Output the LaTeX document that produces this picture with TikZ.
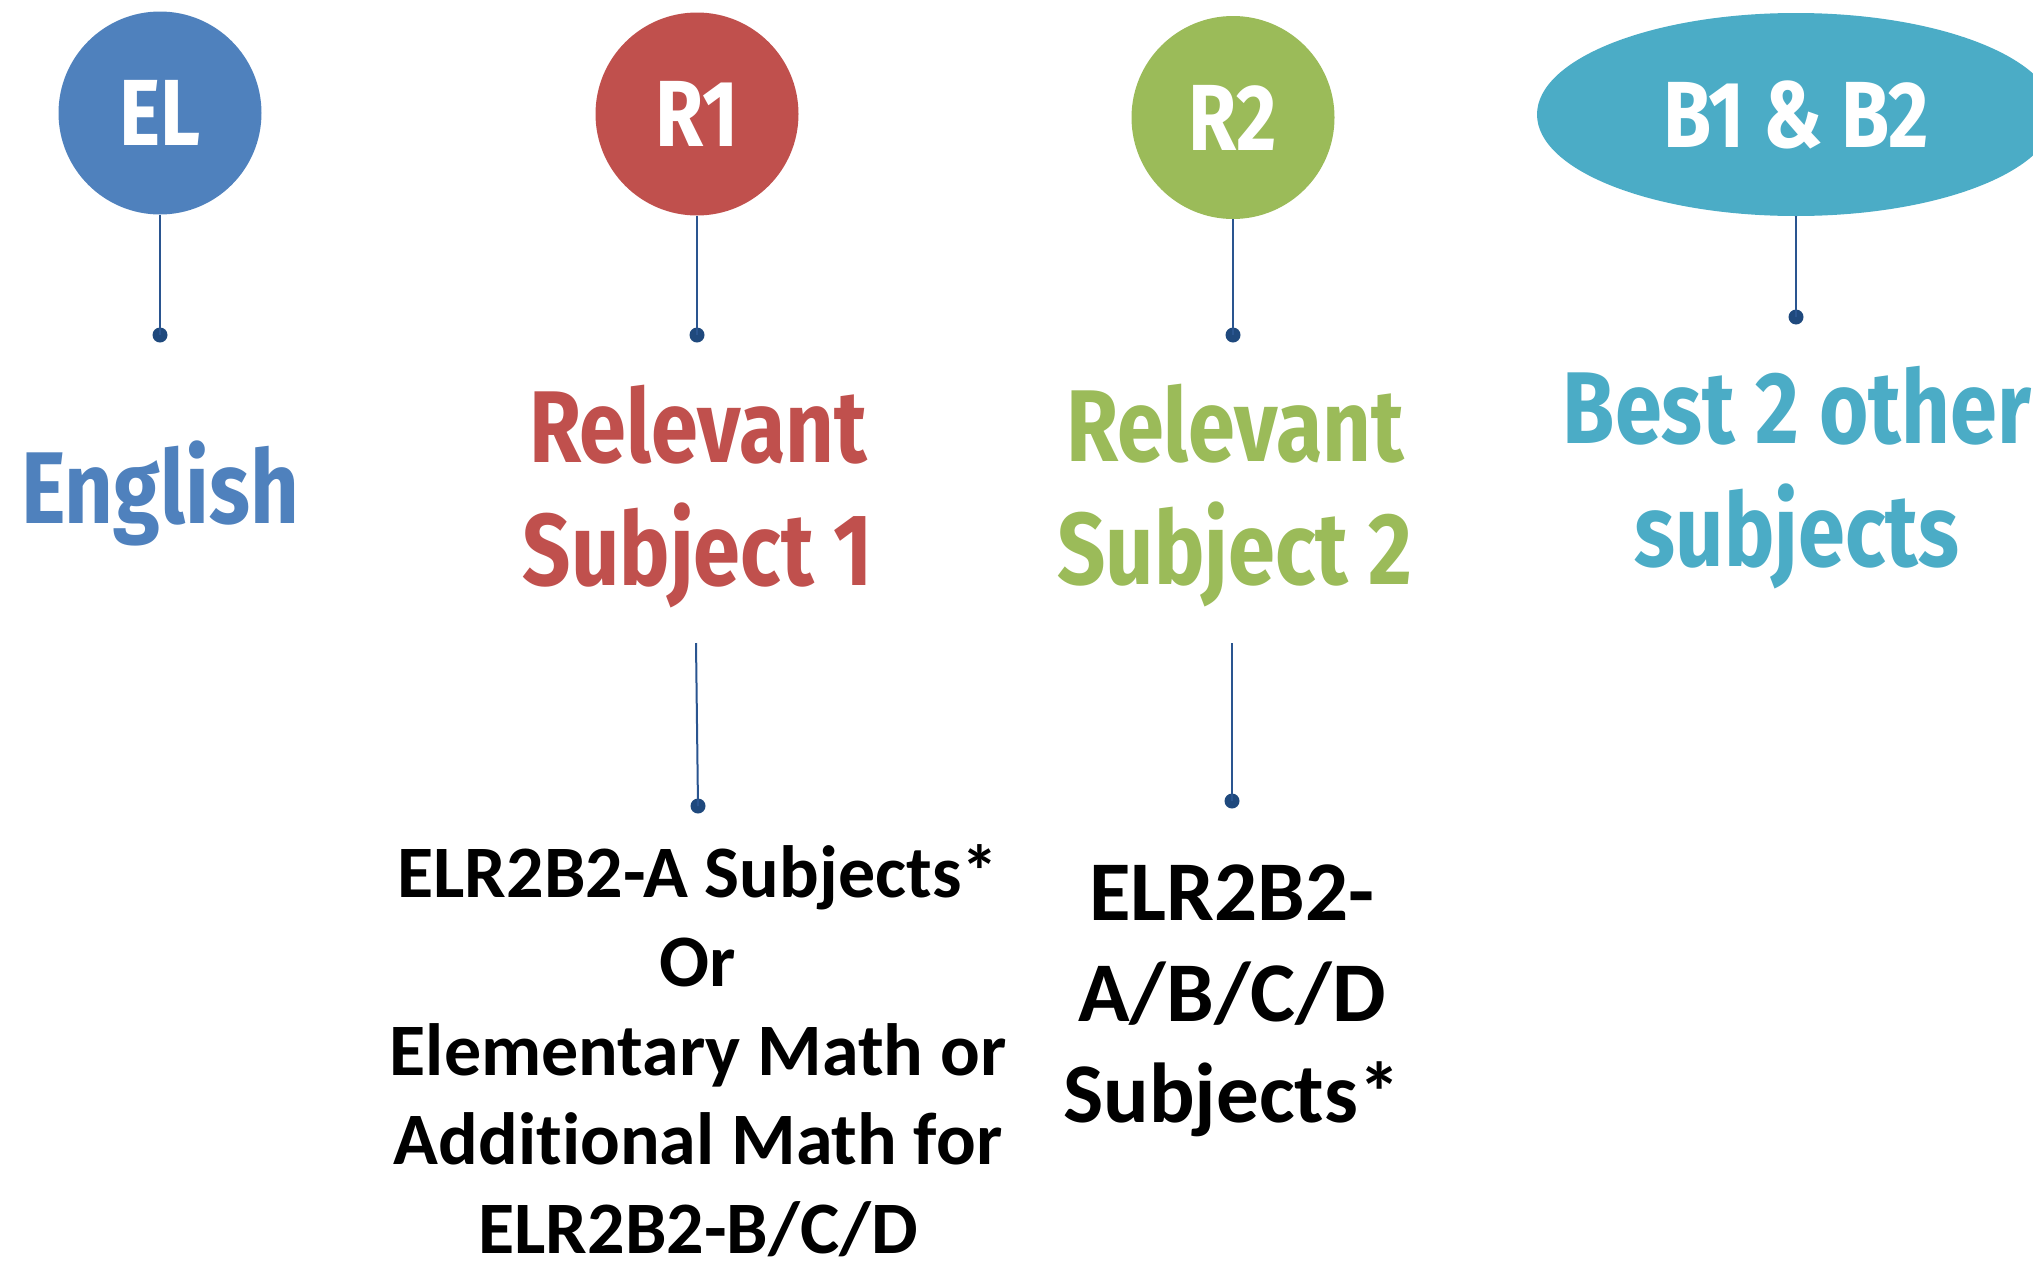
\documentclass[tikz,border=0pt]{standalone}
\usepackage{fontspec}
\setmainfont[Ligatures={NoCommon}]{Carlito}
\newfontfamily\headfont[FakeStretch=0.83]{Fira Sans}
\usetikzlibrary{shapes.geometric}
\definecolor{elblue}{HTML}{4F81BD}
\definecolor{rred}{HTML}{C0504D}
\definecolor{rgreen}{HTML}{9BBB59}
\definecolor{bteal}{HTML}{4BACC6}
\definecolor{linkblue}{HTML}{2A5590}
\definecolor{dotblue}{HTML}{1F497D}
\tikzset{
  badge/.style={circle,fill=#1,minimum size=101.5pt,inner sep=0pt,text=white,font=\headfont\bfseries\fontsize{47pt}{47pt}\selectfont},
  pin/.style={circle,fill=dotblue,minimum size=7.5pt,inner sep=0pt},
  link/.style={draw=linkblue,line width=1pt},
  head/.style={text=#1,align=center,anchor=base,inner sep=0pt,font=\headfont\bfseries\fontsize{51pt}{61.5pt}\selectfont},
  lowleft/.style={align=center,anchor=base,inner sep=0pt,font=\bfseries\fontsize{37pt}{44.5pt}\selectfont},
  lowright/.style={align=center,anchor=base,inner sep=0pt,font=\bfseries\fontsize{42.5pt}{50.5pt}\selectfont}
}
\begin{document}
\begin{tikzpicture}[x=0.5pt,y=-0.5pt]
\useasboundingbox (0,0) rectangle (2033,1264);
\clip (0,0) rectangle (2033,1264);
% badges
\node[badge=elblue] (el) at (160,113) {EL};
\node[badge=rred] (r1) at (697,114) {R1};
\node[badge=rgreen] (r2) at (1233,117.5) {R2};
\node[ellipse,fill=bteal,minimum width=259pt,minimum height=101.5pt,inner sep=0pt,text=white,font=\headfont\bfseries\fontsize{47pt}{47pt}\selectfont] (b) at (1796,114.5) {B1 \& B2};
% pins
\node[pin] (elp) at (160,335) {};
\node[pin] (r1p) at (697,335) {};
\node[pin] (r2p) at (1233,335) {};
\node[pin] (bp) at (1796,317) {};
\draw[link] (el.south) -- (elp.center);
\draw[link] (r1.south) -- (r1p.center);
\draw[link] (r2.south) -- (r2p.center);
\draw[link] (b.south) -- (bp.center);
% headings (base anchor = last line)
\node[head=elblue] (elt) at (160,523) {English};
\node[head=rred] (r1t) at (698,585) {Relevant\\Subject 1};
\node[head=rgreen] (r2t) at (1235,584) {Relevant\\Subject 2};
\node[head=bteal] (bt) at (1797,566) {Best 2 other\\subjects};
% lower connectors
\coordinate (r1top) at (696,643);
\coordinate (r2top) at (1232,643);
\node[pin] (r1q) at (698,806) {};
\node[pin] (r2q) at (1232,801) {};
\draw[link] (r1top) -- (r1q.center);
\draw[link] (r2top) -- (r2q.center);
% lower texts
\node[lowleft] (r1l) at (698,1253) {ELR2B2-A Subjects*\\Or\\Elementary Math or\\Additional Math for\\ELR2B2-B/C/D};
\node[lowright] (r2l) at (1232,1122) {ELR2B2-\\A/B/C/D\\Subjects*};
\end{tikzpicture}
\end{document}
